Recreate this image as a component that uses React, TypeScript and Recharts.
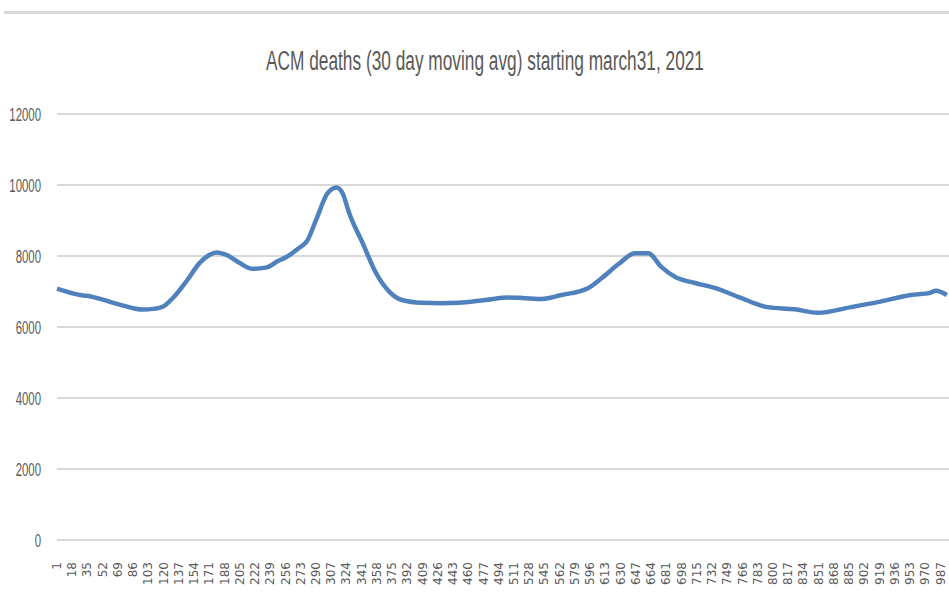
import { LineChart, Line, XAxis, YAxis, CartesianGrid } from 'recharts'

// day number (from march 31, 2021) and 30-day moving average of deaths
const days = [
  1, 18, 27, 34, 45, 60, 75, 86, 97, 108, 119, 130, 146, 160, 171, 179, 190, 205, 219, 235,
  247, 257, 271, 280, 290, 303, 313, 320, 327, 342, 357, 372, 386, 408, 430, 449, 479, 505,
  520, 542, 564, 594, 609, 628, 646, 661, 675, 691, 713, 735, 764, 794, 824, 850, 887, 917,
  954, 975, 982, 994,
]
const deaths = [
  7080, 6950, 6900, 6880, 6820, 6710, 6600, 6530, 6490, 6510, 6570, 6810, 7310, 7800, 8030,
  8100, 8030, 7800, 7640, 7680, 7850, 7970, 8225, 8420, 9010, 9770, 9930, 9750, 9210, 8370,
  7520, 6990, 6760, 6680, 6670, 6680, 6760, 6830, 6820, 6790, 6900, 7100, 7380, 7780, 8080,
  8080, 7700, 7410, 7240, 7100, 6820, 6560, 6500, 6400, 6560, 6700, 6900, 6960, 7020, 6900,
]
const xTicks = [
  1, 18, 35, 52, 69, 86, 103, 120, 137, 154, 171, 188, 205, 222, 239, 256, 273, 290, 307, 324,
  341, 358, 375, 392, 409, 426, 443, 460, 477, 494, 511, 528, 545, 562, 579, 596, 613, 630,
  647, 664, 681, 698, 715, 732, 749, 766, 783, 800, 817, 834, 851, 868, 885, 902, 919, 936,
  953, 970, 987,
]
const yTicks = [0, 2000, 4000, 6000, 8000, 10000, 12000]

const title = 'ACM deaths (30 day moving avg) starting march31, 2021'

const data = days.map((d, i) => ({ day: d, value: deaths[i] }))

const XTick = ({ x, y, payload }: any) => (
  <text
    x={x}
    y={y}
    transform={`rotate(-90, ${x}, ${y})`}
    textAnchor="end"
    dominantBaseline="central"
    fontFamily="DejaVu Sans, Verdana, sans-serif"
    fontSize={12}
    fill="#595959"
  >
    {payload.value}
  </text>
)

const YTick = ({ x, y, payload }: any) => (
  <text
    x={0}
    y={0}
    transform={`translate(${x}, ${y}) scale(0.6, 1)`}
    textAnchor="end"
    dominantBaseline="central"
    fontFamily="Liberation Sans Narrow, Liberation Sans, Arial, sans-serif"
    fontSize={19}
    fill="#595959"
  >
    {payload.value}
  </text>
)

export default function App() {
  return (
    <div
      style={{
        position: 'absolute',
        left: 0,
        top: 0,
        width: 949,
        height: 604,
        overflow: 'hidden',
        background: '#fff',
      }}
    >
      <div
        style={{
          position: 'absolute',
          left: 4,
          right: 0,
          top: 11,
          height: 3,
          background: '#d9d9d9',
        }}
      />
      <div
        style={{
          position: 'absolute',
          left: 0,
          top: 44,
          width: 970,
          textAlign: 'center',
          fontFamily: 'Liberation Sans Narrow, Liberation Sans, Arial, sans-serif',
          fontSize: 27,
          lineHeight: '34px',
          color: '#595959',
          transform: 'scaleX(0.64)',
          whiteSpace: 'nowrap',
        }}
      >
        {title}
      </div>
      <div style={{ position: 'absolute', left: 0, top: 0 }}>
        <LineChart
          width={980}
          height={604}
          data={data}
          margin={{ top: 114, right: 0, left: 0, bottom: 0 }}
        >
          <CartesianGrid vertical={false} stroke="#d9d9d9" strokeWidth={2} />
          <XAxis
            dataKey="day"
            type="number"
            domain={[1, 1031]}
            ticks={xTicks}
            interval={0}
            axisLine={false}
            tickLine={false}
            tickMargin={16}
            height={64}
            tick={<XTick />}
          />
          <YAxis
            domain={[0, 12000]}
            ticks={yTicks}
            width={57}
            axisLine={false}
            tickLine={false}
            tickMargin={10}
            tick={<YTick />}
          />
          <Line
            type="monotone"
            dataKey="value"
            stroke="#4f81bd"
            strokeWidth={4.5}
            dot={false}
            isAnimationActive={false}
          />
        </LineChart>
      </div>
    </div>
  )
}
